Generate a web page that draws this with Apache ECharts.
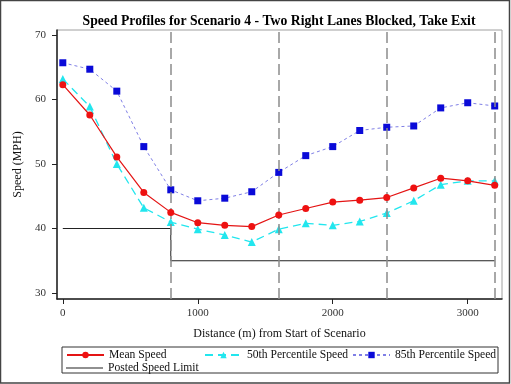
<!DOCTYPE html>
<html>
<head>
<meta charset="utf-8">
<script src="https://cdn.jsdelivr.net/npm/echarts@6/dist/echarts.min.js"></script>
<style>html,body{margin:0;padding:0;background:#fff}#c{width:511px;height:384px}</style>
</head>
<body>
<div id="c"></div>
<script>
const distances = [0,200,400,600,800,1000,1200,1400,1600,1800,2000,2200,2400,2600,2800,3000,3200];
const meanSpeed = [62.3,57.6,51.1,45.6,42.5,40.9,40.5,40.3,42.1,43.1,44.1,44.4,44.8,46.3,47.8,47.4,46.7];
const p50Speed  = [63.2,58.9,50.0,43.2,41.0,39.9,39.0,37.9,39.9,40.8,40.5,41.1,42.4,44.3,46.8,47.4,47.4];
const p85Speed  = [65.7,64.7,61.3,52.7,46.0,44.3,44.7,45.7,48.7,51.3,52.7,55.2,55.7,55.9,58.7,59.5,59.0];
const limitX = [0,800,800,3200];
const limitY = [40,40,35,35];
const refLines = [800,1600,2400,3200];
const xTicks = [0,1000,2000,3000];
const yTicks = [30,40,50,60,70];

const serif = 'Liberation Serif';
const zip = (xs, ys) => xs.map((x,i)=>[x, ys[i]]);

const chart = echarts.init(document.getElementById('c'));
const legendBase = {orient:'horizontal', itemWidth:37, itemHeight:8, itemGap:0,
  textStyle:{fontFamily:serif, fontSize:11.6, color:'#111', padding:[0,0,0,0]}, padding:0};
chart.setOption({
  animation:false,
  backgroundColor:'#fff',
  title:{text:'Speed Profiles for Scenario 4 - Two Right Lanes Blocked, Take Exit',
    left:274, textAlign:'center', top:9,
    textStyle:{fontFamily:serif, fontWeight:'bold', fontSize:13.7, color:'#000'}},
  grid:{left:57, top:30, right:9, bottom:85, show:true, borderColor:'#a0a0a0', borderWidth:1},
  xAxis:{type:'value', min:-43, max:3254,
    name:'Distance (m) from Start of Scenario', nameLocation:'middle', nameGap:29,
    nameTextStyle:{fontFamily:serif, fontSize:12, color:'#111'},
    axisLine:{show:true, onZero:false, lineStyle:{color:'#222', width:1.5}},
    axisTick:{show:true, length:5, customValues:xTicks, lineStyle:{color:'#222'}},
    axisLabel:{customValues:xTicks, margin:9, fontFamily:serif, fontSize:11, color:'#333',
      formatter:v=>String(v)},
    splitLine:{show:false}},
  yAxis:{type:'value', min:29.07, max:70.78,
    name:'Speed (MPH)', nameLocation:'middle', nameGap:33,
    nameTextStyle:{fontFamily:serif, fontSize:12, color:'#111'},
    axisLine:{show:true, onZero:false, lineStyle:{color:'#222', width:1.5}},
    axisTick:{show:true, length:5, customValues:yTicks, lineStyle:{color:'#222'}},
    axisLabel:{customValues:yTicks, margin:11, fontFamily:serif, fontSize:11, color:'#333',
      formatter:v=>String(v)},
    splitLine:{show:false}},
  legend:[
    Object.assign({}, legendBase, {left:66, top:349, data:['Mean Speed']}),
    Object.assign({}, legendBase, {left:204, top:349, data:['50th Percentile Speed']}),
    Object.assign({}, legendBase, {left:352, top:349, data:['85th Percentile Speed']}),
    Object.assign({}, legendBase, {left:66, top:362, itemHeight:1.2, icon:'rect', data:['Posted Speed Limit']})
  ],
  graphic:[
    {type:'rect', shape:{x:62, y:347, width:436, height:26}, style:{fill:'none', stroke:'#333', lineWidth:1}, z:100},
    {type:'rect', shape:{x:0.5, y:0.5, width:509, height:382.5}, style:{fill:'none', stroke:'#444', lineWidth:1.5}, z:100}
  ],
  series:[
    {name:'Posted Speed Limit', type:'line', data:zip(limitX, limitY), symbol:'none',
      lineStyle:{color:'#222', width:1}, itemStyle:{color:'#222'}, z:2,
      markLine:{silent:true, symbol:'none', label:{show:false},
        lineStyle:{color:'#8c8c8c', width:1.5, type:[11,5]},
        data:refLines.map(v=>({xAxis:v}))}},
    {name:'85th Percentile Speed', type:'line', data:zip(distances, p85Speed), symbol:'rect', symbolSize:7,
      lineStyle:{color:'#7f7fe6', width:1, type:[3,3]}, itemStyle:{color:'#0a0ad8'}, z:3},
    {name:'50th Percentile Speed', type:'line', data:zip(distances, p50Speed), symbol:'triangle', symbolSize:8,
      lineStyle:{color:'#22e6ee', width:1.3, type:[8,5]}, itemStyle:{color:'#22e6ee'}, z:4},
    {name:'Mean Speed', type:'line', data:zip(distances, meanSpeed), symbol:'circle', symbolSize:7,
      lineStyle:{color:'#e41414', width:1.2}, itemStyle:{color:'#ee1111'}, z:5}
  ]
});
</script>
</body>
</html>
